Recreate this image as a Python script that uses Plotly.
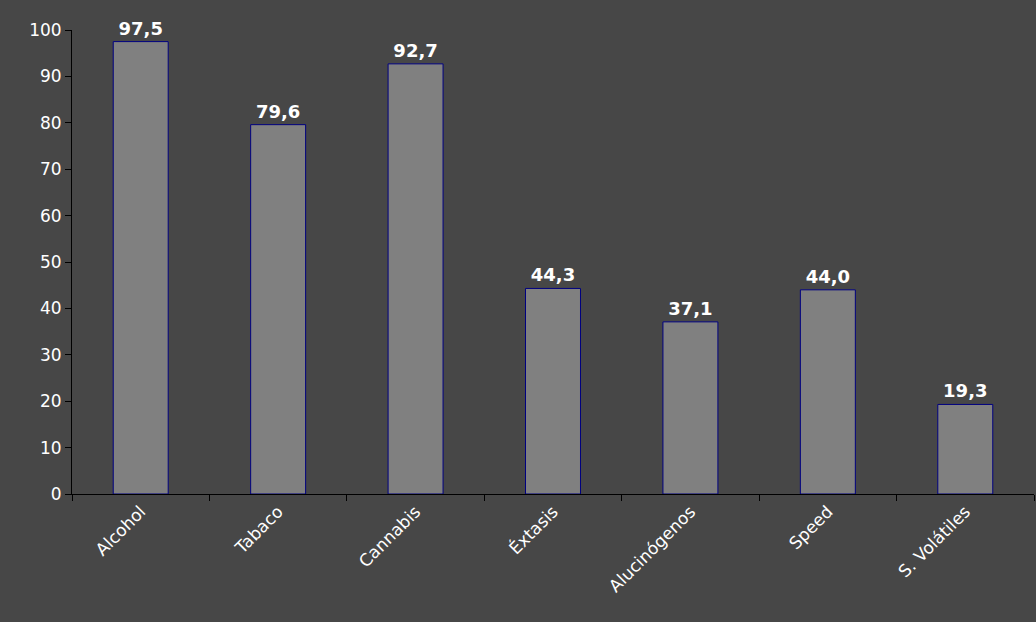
import plotly.graph_objects as go

categories = ["Alcohol", "Tabaco", "Cannabis", "Éxtasis", "Alucinógenos", "Speed", "S. Volátiles"]
values = [97.5, 79.6, 92.7, 44.3, 37.1, 44.0, 19.3]
labels = [f"{v:.1f}".replace(".", ",") for v in values]

fig = go.Figure(go.Bar(
    x=categories, y=values, width=0.4,
    marker=dict(color="#808080", line=dict(color="#000080", width=1)),
    text=labels, textposition="outside", cliponaxis=False,
    textfont=dict(color="white", size=18, family="DejaVu Sans"),
))
fig.update_traces(texttemplate="<b>%{text}</b>")
fig.update_layout(
    width=1036, height=622, margin=dict(l=72, r=2, t=30, b=128),
    paper_bgcolor="#474747", plot_bgcolor="#474747",
    font=dict(color="white", family="DejaVu Sans", size=17),
    showlegend=False, bargap=0.6,
)
fig.update_yaxes(range=[0, 100], dtick=10, showgrid=False, showline=True,
                 linecolor="black", ticks="outside", ticklen=6, tickcolor="black",
                 zeroline=False)
fig.update_xaxes(showline=True, linecolor="black", ticks="outside", tickson="boundaries",
                 ticklen=6, tickcolor="black", tickangle=-45, showgrid=False)
fig.write_html("out.html", config={"displayModeBar": False},
               post_script="document.body.style.margin='0';document.body.style.background='#474747';")
